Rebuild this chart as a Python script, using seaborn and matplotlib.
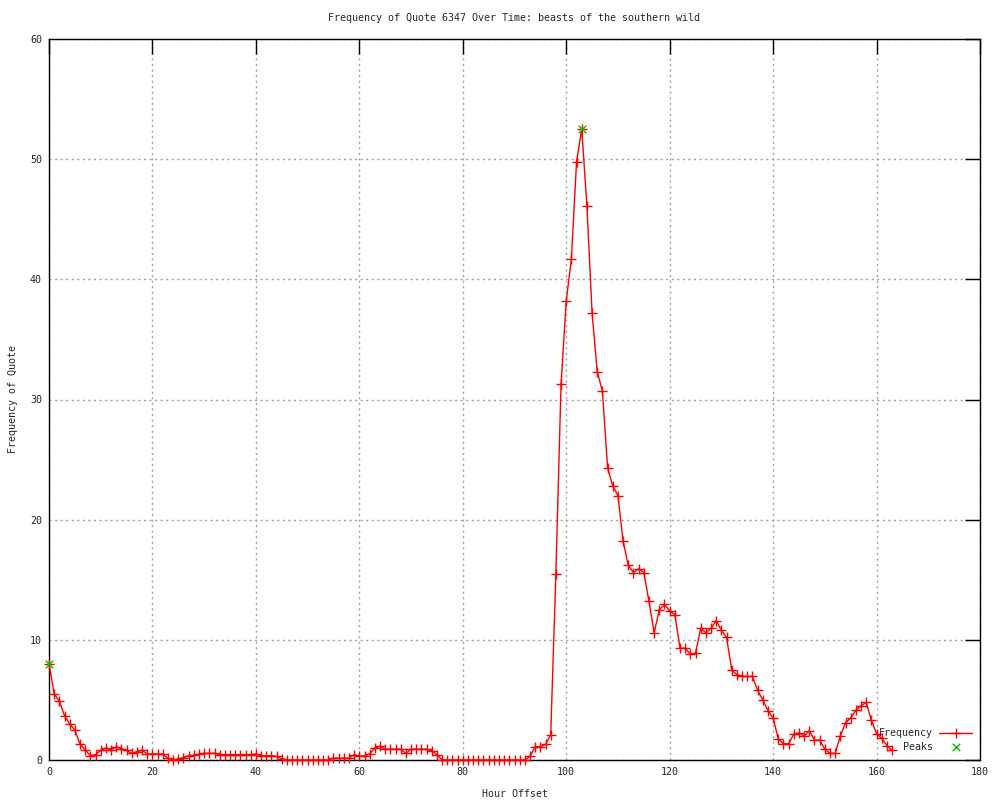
import pandas as pd
import seaborn as sns
import matplotlib.pyplot as plt

# Data (hourly offsets 0..163)
hours = list(range(164))
frequency = [
    8.0, 5.5, 4.9, 3.7, 3.0, 2.5, 1.3, 0.85, 0.35, 0.45,
    0.8, 1.0, 0.85, 1.1, 0.95, 0.8, 0.55, 0.7, 0.8, 0.5,
    0.5, 0.5, 0.5, 0.15, 0.0, 0.1, 0.2, 0.35, 0.4, 0.5,
    0.55, 0.55, 0.55, 0.45, 0.45, 0.45, 0.45, 0.45, 0.45, 0.45,
    0.5, 0.35, 0.35, 0.35, 0.3, 0.1, 0.0, 0.0, 0.0, 0.0,
    0.0, 0.0, 0.0, 0.0, 0.0, 0.15, 0.15, 0.15, 0.15, 0.45,
    0.3, 0.35, 0.5, 1.0, 1.15, 0.9, 0.9, 0.9, 0.9, 0.55,
    0.9, 0.9, 0.9, 0.9, 0.75, 0.45, 0.0, 0.0, 0.0, 0.0,
    0.0, 0.0, 0.0, 0.0, 0.0, 0.0, 0.0, 0.0, 0.0, 0.0,
    0.0, 0.0, 0.0, 0.3, 1.1, 1.1, 1.3, 2.1, 15.5, 31.3,
    38.2, 41.7, 49.8, 52.5, 46.1, 37.2, 32.3, 30.7, 24.3, 22.8,
    22.0, 18.2, 16.2, 15.6, 15.9, 15.6, 13.2, 10.6, 12.5, 12.95,
    12.4, 12.1, 9.3, 9.3, 8.8, 8.9, 10.95, 10.6, 10.95, 11.6,
    10.8, 10.2, 7.5, 7.1, 6.95, 6.95, 6.95, 5.8, 5.0, 4.1,
    3.5, 1.75, 1.35, 1.35, 2.15, 2.25, 2.0, 2.45, 1.65, 1.65,
    0.9, 0.55, 0.55, 2.0, 3.1, 3.5, 4.15, 4.5, 4.8, 3.3,
    2.2, 1.8, 1.2, 0.8,
]
peak_hours = [0, 103]
peak_values = [8.0, 52.5]

x_ticks = [0, 20, 40, 60, 80, 100, 120, 140, 160, 180]
y_ticks = [0, 10, 20, 30, 40, 50, 60]

sns.set_style("white")
plt.rcParams['font.family'] = ['DejaVu Sans Mono']
plt.rcParams['font.size'] = 7.2

df = pd.DataFrame({'hour': hours, 'frequency': frequency})
peaks = pd.DataFrame({'hour': peak_hours, 'frequency': peak_values})

fig, ax = plt.subplots(figsize=(10, 8), dpi=100)
fig.subplots_adjust(left=0.049, right=0.98, bottom=0.05, top=0.95125)

sns.lineplot(data=df, x='hour', y='frequency', ax=ax, color='#ff0000', lw=1,
             marker='+', markersize=7, markeredgewidth=1,
             markeredgecolor='#ff0000', label='Frequency',
             clip_on=False, zorder=3)
sns.scatterplot(data=peaks, x='hour', y='frequency', ax=ax, marker='x',
                color='#00c000', s=30, linewidth=1, label='Peaks',
                clip_on=False, zorder=4)

ax.set_xlim(0, 180)
ax.set_ylim(0, 60)
ax.set_xticks(x_ticks)
ax.set_yticks(y_ticks)
ax.tick_params(direction='in', length=11, width=1, color='black',
               top=True, right=True, pad=5, labelsize=7.2)
ax.grid(True, ls=(0, (1.5, 2.5)), color='#a0a0a0', lw=1)
ax.set_axisbelow(True)
for s in ax.spines.values():
    s.set_color('black')
    s.set_linewidth(1)

ax.set_title('Frequency of Quote 6347 Over Time: beasts of the southern wild',
             fontsize=7.2, pad=13)
ax.set_xlabel('Hour Offset', fontsize=7.2, labelpad=9)
ax.set_ylabel('Frequency of Quote', fontsize=7.2, labelpad=9)

ax.legend(loc='lower right', frameon=False, markerfirst=False,
          handlelength=3.3, handletextpad=0.6, labelspacing=0.35,
          borderaxespad=0.4, fontsize=7.2)

plt.savefig('out.png', dpi=100)
